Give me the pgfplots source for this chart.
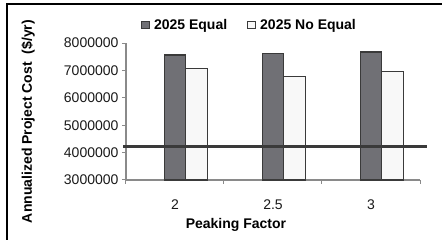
\documentclass[border=0pt]{standalone}
\usepackage{pgfplots}
\pgfplotsset{compat=1.18}
\usepackage{fontspec}
\setmainfont{Liberation Sans}
\definecolor{darkbar}{HTML}{707075}
\definecolor{lightbar}{HTML}{F8F8F8}
\definecolor{edge}{HTML}{3A3A3A}
\definecolor{axisgray}{HTML}{8A8A8A}
\begin{document}
\begin{tikzpicture}
\path[use as bounding box] (-126pt,-60pt) rectangle (316pt,180pt);
\draw[black, line width=1.3pt] (-119pt,-62pt) -- (-119pt,176pt) -- (318pt,176pt);
\begin{axis}[
  scale only axis, width=294pt, height=137pt,
  at={(0,0)}, anchor=south west,
  xmin=-0.5, xmax=2.5, ymin=3000000, ymax=8000000,
  ybar, bar width=0.22,
  clip=false,
  axis x line*=bottom, axis y line*=left,
  axis line style={axisgray, line width=1.2pt, -},
  tick align=outside, major tick length=4pt,
  tick style={axisgray, line width=1pt},
  xtick={-0.5,0.5,1.5,2.5}, xticklabels={,,,},
  extra x ticks={0,1,2}, extra x tick labels={2,2.5,3},
  extra x tick style={major tick length=0pt, tick style={draw=none}},
  ytick={3000000,4000000,5000000,6000000,7000000,8000000},
  scaled y ticks=false,
  yticklabel style={/pgf/number format/.cd, fixed, precision=0, 1000 sep={}, assume math mode=true},
  xticklabel style={/pgf/number format/assume math mode=true},
  ticklabel style={font=\fontsize{14}{16}\selectfont, text=black!90},
  xticklabel style={yshift=-16pt},
  xlabel={Peaking Factor},
  ylabel={Annualized Project Cost\ \ (\$/yr)},
  label style={font=\fontsize{14}{16}\selectfont\bfseries, text=black},
  xlabel style={at={(axis description cs:0.374,-0.325)}, anchor=center},
  ylabel style={at={(axis description cs:-0.333,0.427)}, anchor=center},
  legend columns=2,
  legend style={draw=none, fill=none, at={(axis description cs:0.42,1.13)}, anchor=center,
    font=\fontsize{14}{16}\selectfont\bfseries, text=black,
    /tikz/every even column/.append style={column sep=18pt}},
  legend image code/.code={\draw[#1, line width=0.8pt] (0pt,-3.5pt) rectangle (7.5pt,4pt); \path (10pt,0pt);},
]
\addplot[fill=darkbar, draw=edge, line width=1.2pt, bar shift=0] coordinates {(0,7560000) (1,7620000) (2,7670000)};
\addplot[fill=lightbar, draw=edge, line width=1.2pt, bar shift=0.22] coordinates {(0,7070000) (1,6780000) (2,6950000)};
\legend{2025 Equal, 2025 No Equal}
\addplot[sharp plot, draw=edge, line width=2.5pt, forget plot, mark=none] coordinates {(-0.53,4220000) (2.57,4220000)};
\end{axis}
\end{tikzpicture}
\end{document}
